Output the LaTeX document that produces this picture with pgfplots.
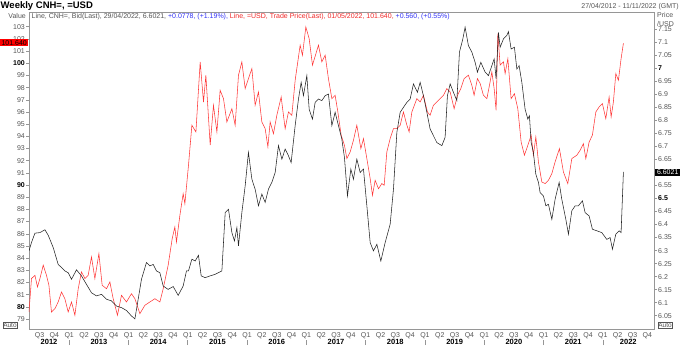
\documentclass[border=0pt]{standalone}
\usepackage{fontspec}
\setmainfont{Liberation Sans}
\usepackage{pgfplots}
\pgfplotsset{compat=1.18}
\definecolor{redline}{RGB}{255,55,55}
\definecolor{blackline}{RGB}{35,35,35}
\definecolor{framegray}{RGB}{150,150,150}
\definecolor{labgray}{RGB}{85,85,85}
\definecolor{legblue}{RGB}{50,50,245}
\definecolor{legred}{RGB}{240,40,40}

\begin{document}
\begin{tikzpicture}
\useasboundingbox (0,0) rectangle (680pt,346pt);
\pgfplotsset{
  common/.style={
    at={(29pt,16.5pt)}, anchor=south west,
    scale only axis, width=625pt, height=316.8pt,
    xmin=2012.322, xmax=2022.863,
    axis line style={framegray, line width=0.9pt},
    tick style={framegray, line width=0.5pt},
    tick align=outside, major tick length=3pt,
    tick label style={font=\fontsize{7}{8}\selectfont, text=labgray, inner sep=1pt},
    /pgf/number format/assume math mode=true,
  }
}
% ---------------- left axis: =USD (red)
\begin{axis}[common,
  ymin=78.14, ymax=104.15,
  ytick pos=left, xtick pos=bottom,
  ytick={79,80,81,82,83,84,85,86,87,88,89,90,91,92,93,94,95,96,97,98,99,100,101,102,103},
  yticklabels={79,\textbf{\color{black}80},81,82,83,84,85,86,87,88,89,\textbf{\color{black}90},91,92,93,94,95,96,97,98,99,\textbf{\color{black}100},101,102,103},
  xtick={2012.5,2012.75,2013,2013.25,2013.5,2013.75,2014,2014.25,2014.5,2014.75,2015,2015.25,2015.5,2015.75,2016,2016.25,2016.5,2016.75,2017,2017.25,2017.5,2017.75,2018,2018.25,2018.5,2018.75,2019,2019.25,2019.5,2019.75,2020,2020.25,2020.5,2020.75,2021,2021.25,2021.5,2021.75,2022,2022.25,2022.5,2022.75},
  xticklabels={Q3,Q4,Q1,Q2,Q3,Q4,Q1,Q2,Q3,Q4,Q1,Q2,Q3,Q4,Q1,Q2,Q3,Q4,Q1,Q2,Q3,Q4,Q1,Q2,Q3,Q4,Q1,Q2,Q3,Q4,Q1,Q2,Q3,Q4,Q1,Q2,Q3,Q4,Q1,Q2,Q3,Q4},
  major x tick style={draw=none},
  xticklabel style={yshift=1.5pt},
  extra x ticks={2012.66,2013.5,2014.5,2015.5,2016.5,2017.5,2018.5,2019.5,2020.5,2021.5,2022.43},
  extra x tick labels={2012,2013,2014,2015,2016,2017,2018,2019,2020,2021,2022},
  extra x tick style={xticklabel style={yshift=-7.5pt, text=black, font=\fontsize{7.5}{8}\selectfont\bfseries}},
]
\addplot[redline, line width=0.55pt] coordinates {
(2012.322,79.58) (2012.364,82.32) (2012.422,82.59) (2012.465,81.63) (2012.506,82.32) (2012.562,83.42) (2012.617,82.59) (2012.658,81.77) (2012.701,79.58) (2012.759,79.85) (2012.814,80.40) (2012.870,81.22) (2012.927,80.67) (2012.983,79.58) (2013.039,80.40) (2013.096,79.31) (2013.152,81.49) (2013.207,82.87) (2013.265,82.32) (2013.320,82.59) (2013.376,84.10) (2013.433,82.32) (2013.501,84.37) (2013.556,81.77) (2013.629,81.49) (2013.686,82.04) (2013.742,80.67) (2013.814,79.31) (2013.882,80.95) (2013.966,80.40) (2014.050,81.08) (2014.108,80.67) (2014.192,79.44) (2014.276,80.13) (2014.361,80.40) (2014.445,80.67) (2014.529,80.40) (2014.585,81.49) (2014.669,83.42) (2014.737,85.60) (2014.782,86.56) (2014.809,85.33) (2014.867,87.52) (2014.922,89.29) (2014.951,88.47) (2015.012,91.63) (2015.069,94.91) (2015.137,94.36) (2015.209,100.11) (2015.265,96.82) (2015.305,99.02) (2015.378,93.27) (2015.433,96.55) (2015.491,94.36) (2015.546,97.78) (2015.602,97.09) (2015.659,95.18) (2015.744,96.27) (2015.799,94.91) (2015.855,99.02) (2015.912,100.11) (2015.968,97.92) (2016.023,98.74) (2016.081,99.56) (2016.136,96.55) (2016.192,97.64) (2016.249,95.18) (2016.305,94.63) (2016.351,93.13) (2016.389,95.18) (2016.445,94.22) (2016.502,95.73) (2016.575,97.23) (2016.642,94.63) (2016.698,96.00) (2016.755,95.73) (2016.811,98.60) (2016.895,101.48) (2016.934,100.66) (2016.991,102.98) (2017.047,102.02) (2017.103,99.84) (2017.204,101.48) (2017.261,100.11) (2017.317,100.66) (2017.372,98.74) (2017.430,97.09) (2017.485,97.37) (2017.531,96.00) (2017.587,94.09) (2017.642,93.27) (2017.683,92.17) (2017.739,92.72) (2017.794,93.68) (2017.851,94.91) (2017.919,92.99) (2017.963,93.81) (2018.020,92.17) (2018.076,90.53) (2018.115,89.16) (2018.160,90.39) (2018.216,89.70) (2018.273,90.12) (2018.312,89.98) (2018.357,92.72) (2018.413,93.81) (2018.469,94.63) (2018.526,94.63) (2018.582,94.91) (2018.637,96.00) (2018.695,94.91) (2018.733,94.36) (2018.779,96.00) (2018.863,97.09) (2018.919,96.82) (2018.974,97.37) (2019.042,96.00) (2019.087,95.73) (2019.143,96.55) (2019.200,96.82) (2019.256,97.09) (2019.312,97.37) (2019.369,97.92) (2019.425,97.64) (2019.492,96.27) (2019.548,97.37) (2019.605,97.92) (2019.661,98.74) (2019.733,99.02) (2019.791,98.19) (2019.829,97.37) (2019.885,98.74) (2019.931,98.33) (2019.986,97.37) (2020.044,97.09) (2020.099,98.47) (2020.128,99.29) (2020.167,97.92) (2020.200,96.14) (2020.229,102.43) (2020.268,99.84) (2020.324,100.11) (2020.352,99.15) (2020.398,100.38) (2020.453,97.09) (2020.509,97.50) (2020.566,96.27) (2020.622,93.54) (2020.678,92.45) (2020.735,93.27) (2020.791,94.09) (2020.829,92.45) (2020.870,93.95) (2020.914,91.90) (2020.971,90.25) (2021.027,90.12) (2021.082,90.39) (2021.140,90.94) (2021.195,91.90) (2021.268,92.99) (2021.335,91.08) (2021.409,90.12) (2021.477,92.17) (2021.561,92.45) (2021.617,92.86) (2021.672,93.40) (2021.713,92.17) (2021.769,93.54) (2021.824,94.09) (2021.882,96.00) (2021.937,96.41) (2021.993,96.68) (2022.050,95.45) (2022.106,97.23) (2022.140,95.59) (2022.178,96.82) (2022.219,99.15) (2022.263,98.60) (2022.308,100.38) (2022.347,101.64)
};
\end{axis}
% ---------------- right axis: CNH= (black)
\begin{axis}[common,
  ymin=5.997, ymax=7.2135,
  hide x axis, axis y line*=right,
  ytick={6.05,6.1,6.15,6.2,6.25,6.3,6.35,6.4,6.45,6.5,6.55,6.6,6.65,6.7,6.75,6.8,6.85,6.9,6.95,7,7.05,7.1,7.15},
  yticklabels={6.05,6.1,6.15,6.2,6.25,6.3,6.35,6.4,6.45,\textbf{\color{black}6.5},6.55,{},6.65,6.7,6.75,6.8,6.85,6.9,6.95,\textbf{\color{black}7},7.05,\raisebox{0.5pt}{7.1},\raisebox{-3.6pt}{7.15}},
]
\addplot[blackline, line width=0.55pt] coordinates {
(2012.322,6.299) (2012.364,6.331) (2012.422,6.367) (2012.506,6.369) (2012.590,6.380) (2012.646,6.359) (2012.730,6.312) (2012.814,6.247) (2012.870,6.235) (2012.927,6.222) (2012.983,6.215) (2013.039,6.190) (2013.123,6.226) (2013.207,6.203) (2013.292,6.170) (2013.376,6.138) (2013.460,6.126) (2013.545,6.132) (2013.629,6.113) (2013.713,6.107) (2013.798,6.087) (2013.882,6.081) (2013.966,6.070) (2014.050,6.049) (2014.108,6.038) (2014.163,6.113) (2014.219,6.190) (2014.303,6.254) (2014.361,6.241) (2014.416,6.247) (2014.472,6.222) (2014.529,6.215) (2014.585,6.164) (2014.669,6.151) (2014.754,6.162) (2014.838,6.128) (2014.922,6.164) (2014.978,6.222) (2015.012,6.222) (2015.069,6.267) (2015.125,6.260) (2015.180,6.282) (2015.226,6.203) (2015.293,6.196) (2015.378,6.203) (2015.462,6.209) (2015.575,6.222) (2015.631,6.446) (2015.686,6.459) (2015.744,6.369) (2015.787,6.337) (2015.828,6.388) (2015.855,6.318) (2015.912,6.446) (2015.968,6.549) (2016.023,6.677) (2016.081,6.574) (2016.136,6.536) (2016.192,6.472) (2016.249,6.517) (2016.305,6.485) (2016.361,6.536) (2016.418,6.562) (2016.474,6.600) (2016.529,6.703) (2016.587,6.651) (2016.642,6.690) (2016.698,6.664) (2016.743,6.638) (2016.811,6.780) (2016.867,6.882) (2016.912,6.946) (2016.951,6.895) (2017.008,6.972) (2017.047,6.843) (2017.103,6.805) (2017.148,6.869) (2017.204,6.882) (2017.261,6.876) (2017.317,6.895) (2017.372,6.901) (2017.430,6.780) (2017.485,6.831) (2017.541,6.780) (2017.598,6.728) (2017.642,6.658) (2017.693,6.510) (2017.750,6.613) (2017.794,6.574) (2017.851,6.651) (2017.907,6.600) (2017.963,6.613) (2018.020,6.472) (2018.076,6.331) (2018.131,6.299) (2018.189,6.324) (2018.256,6.260) (2018.329,6.331) (2018.413,6.401) (2018.469,6.536) (2018.526,6.754) (2018.582,6.831) (2018.637,6.850) (2018.695,6.869) (2018.750,6.882) (2018.806,6.940) (2018.873,6.908) (2018.919,6.946) (2018.974,6.895) (2019.032,6.831) (2019.087,6.767) (2019.143,6.741) (2019.200,6.715) (2019.285,6.703) (2019.340,6.735) (2019.379,6.895) (2019.425,6.940) (2019.480,6.908) (2019.538,6.876) (2019.582,7.062) (2019.639,7.113) (2019.677,7.158) (2019.733,7.087) (2019.791,7.062) (2019.846,7.023) (2019.885,6.985) (2019.942,7.023) (2020.015,6.985) (2020.071,6.972) (2020.128,7.010) (2020.167,7.036) (2020.200,6.959) (2020.239,7.138) (2020.268,7.081) (2020.324,7.113) (2020.381,7.126) (2020.408,7.141) (2020.453,7.074) (2020.509,7.081) (2020.550,6.997) (2020.588,7.010) (2020.634,6.946) (2020.689,6.843) (2020.735,6.805) (2020.762,6.818) (2020.791,6.715) (2020.829,6.677) (2020.870,6.593) (2020.914,6.562) (2020.942,6.523) (2020.998,6.510) (2021.039,6.472) (2021.082,6.478) (2021.140,6.420) (2021.195,6.497) (2021.263,6.562) (2021.308,6.497) (2021.376,6.420) (2021.420,6.363) (2021.477,6.453) (2021.533,6.472) (2021.588,6.472) (2021.656,6.491) (2021.701,6.446) (2021.769,6.433) (2021.824,6.382) (2021.899,6.376) (2021.983,6.369) (2022.067,6.343) (2022.123,6.350) (2022.162,6.305) (2022.219,6.363) (2022.275,6.376) (2022.308,6.369) (2022.347,6.6021)
};
\end{axis}
% ---------------- texts and boxes
\foreach \xx in {69.20,128.49,187.78,247.08,306.37,365.66,424.95,484.24,543.54,602.83}{
  \draw[framegray, line width=0.6pt] (\xx pt,1pt) -- (\xx pt,6.5pt);
}
\node[anchor=west, inner sep=0pt, font=\fontsize{9.5}{10}\selectfont\bfseries] at (0.5pt,340pt) {Weekly CNH=, =USD};
\node[anchor=east, inner sep=0pt, font=\fontsize{7}{8}\selectfont, text=labgray] at (679pt,339.5pt) {27/04/2012 - 11/11/2022 (GMT)};
\node[anchor=west, inner sep=0pt, font=\fontsize{7}{8}\selectfont] at (31.5pt,329pt) {\color{labgray}Line, CNH=, Bid(Last), 29/04/2022, 6.6021, \color{legblue}+0.0778, (+1.19\%), \color{legred}Line, =USD, Trade Price(Last), 01/05/2022, 101.640, \color{legblue}+0.560, (+0.55\%)};
\node[anchor=east, inner sep=0pt, font=\fontsize{7}{8}\selectfont, text=labgray] at (26pt,330pt) {Value};
\node[anchor=west, inner sep=0pt, font=\fontsize{7}{8}\selectfont, text=labgray] at (657pt,331pt) {Price};
\node[anchor=west, inner sep=0pt, font=\fontsize{7}{8}\selectfont, text=labgray] at (657pt,322.5pt) {/USD};
\node[fill=red, text=black, inner sep=1pt, minimum width=28pt, minimum height=7.5pt, font=\fontsize{7}{8}\selectfont, anchor=west] at (0pt,303.3pt) {101.640};
\node[fill=black, text=white, inner sep=1pt, minimum width=25pt, minimum height=7.5pt, font=\fontsize{7}{8}\selectfont, anchor=west] at (655pt,173.5pt) {6.6021};
\node[draw=labgray, line width=0.4pt, fill=white, text=labgray, inner sep=0.6pt, font=\fontsize{6.5}{7}\selectfont, anchor=west] at (2.5pt,20.5pt) {Auto};
\node[draw=labgray, line width=0.4pt, fill=white, text=labgray, inner sep=0.6pt, font=\fontsize{6.5}{7}\selectfont, anchor=west] at (657.5pt,20.5pt) {Auto};
\end{tikzpicture}
\end{document}
